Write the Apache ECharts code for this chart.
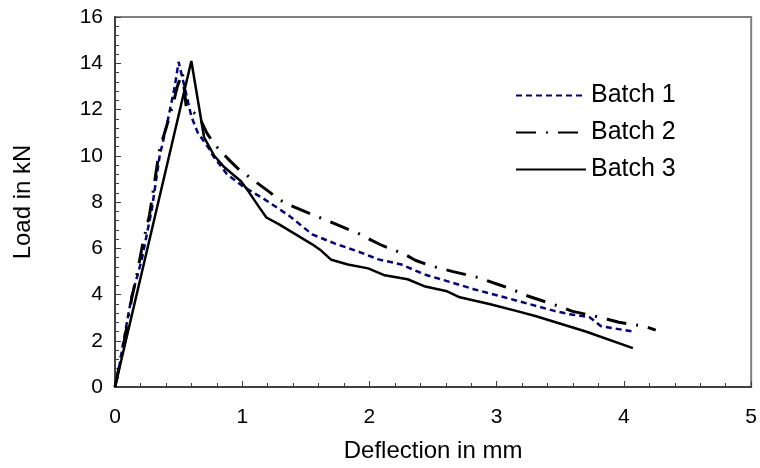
<!DOCTYPE html>
<html>
<head>
<meta charset="utf-8">
<script src="https://cdn.jsdelivr.net/npm/echarts@6/dist/echarts.min.js"></script>
<style>html,body{margin:0;padding:0;background:#fff;}#c{width:760px;height:468px;}</style>
</head>
<body>
<div id="c"></div>
<script>
const xTicks = [0, 1, 2, 3, 4, 5];
const yTicks = [0, 2, 4, 6, 8, 10, 12, 14, 16];

const batch1X = [0,0.04,0.06,0.13,0.21,0.29,0.35,0.41,0.47,0.50,0.55,0.60,0.65,0.74,0.77,0.88,1.0,1.18,1.37,1.55,1.73,1.91,2.07,2.25,2.43,2.64,2.82,3.06,3.26,3.46,3.57,3.73,3.82,4.07];
const batch1Y = [0,1.08,1.77,3.9,5.5,7.7,9.96,11.4,13.0,14.06,12.9,11.7,11.0,10.3,10.0,9.2,8.7,8.1,7.4,6.6,6.2,5.86,5.52,5.3,4.87,4.53,4.23,3.88,3.58,3.28,3.15,3.02,2.63,2.4];

const batch2X = [0,0.04,0.08,0.13,0.17,0.22,0.27,0.35,0.45,0.49,0.53,0.56,0.66,0.72,0.78,0.90,0.975,1.05,1.21,1.29,1.38,1.55,1.65,1.74,1.93,2.01,2.1,2.28,2.36,2.47,2.65,2.75,2.85,3.03,3.12,3.21,3.39,3.49,3.59,3.77,3.87,3.96,4.16,4.25];
const batch2Y = [0,1.08,2.2,3.8,4.8,6.25,7.4,10.26,12.1,13.0,13.6,12.1,11.7,11.0,10.5,9.8,9.4,9.1,8.45,8.1,7.85,7.46,7.24,7.03,6.6,6.36,6.12,5.73,5.48,5.26,5.0,4.87,4.74,4.4,4.23,4.0,3.67,3.49,3.28,3.06,2.93,2.8,2.63,2.46];

const batch3X = [0,0.6,0.70,0.78,0.86,0.99,1.05,1.13,1.19,1.29,1.42,1.55,1.62,1.70,1.83,1.99,2.12,2.30,2.43,2.61,2.71,2.95,3.16,3.31,3.7,4.07];
const batch3Y = [0,14.1,10.8,10.0,9.5,8.9,8.45,7.8,7.33,7.03,6.6,6.17,5.9,5.5,5.3,5.13,4.83,4.66,4.36,4.14,3.88,3.58,3.28,3.06,2.4,1.68];

const seriesNames = ['Batch 1', 'Batch 2', 'Batch 3'];

function zip(xs, ys) { return xs.map((x, i) => [x, ys[i]]); }

const FONT = '"Liberation Sans", Arial, sans-serif';
const chart = echarts.init(document.getElementById('c'), null, {renderer: 'canvas'});
chart.setOption({
  animation: false,
  backgroundColor: '#fff',
  grid: {left: 115, right: 4, top: 17, bottom: 80, show: true, borderColor: '#808080', borderWidth: 2},
  legend: {
    orient: 'vertical', left: 515, top: 83, padding: 0, itemWidth: 70, itemHeight: 14, itemGap: 12,
    data: seriesNames,
    itemStyle: {opacity: 0},
    textStyle: {fontFamily: FONT, fontSize: 25, color: '#000'}
  },
  xAxis: {
    type: 'value', min: xTicks[0], max: xTicks[xTicks.length - 1], interval: 1,
    name: 'Deflection in mm', nameLocation: 'middle', nameGap: 52,
    nameTextStyle: {fontFamily: FONT, fontSize: 24, color: '#000'},
    axisLine: {lineStyle: {color: '#404040', width: 2}},
    axisTick: {inside: true, length: 6, lineStyle: {color: '#404040', width: 1}},
    minorTick: {show: true, splitNumber: 5, length: 4, lineStyle: {color: '#404040'}},
    splitLine: {show: false},
    axisLabel: {fontFamily: FONT, fontSize: 21, color: '#000', margin: 20}
  },
  yAxis: {
    type: 'value', min: yTicks[0], max: yTicks[yTicks.length - 1], interval: 2,
    name: 'Load in kN', nameLocation: 'middle', nameGap: 80, nameRotate: 90,
    nameTextStyle: {fontFamily: FONT, fontSize: 24, color: '#000'},
    axisLine: {lineStyle: {color: '#404040', width: 2}},
    axisTick: {inside: true, length: 6, lineStyle: {color: '#404040', width: 1}},
    minorTick: {show: true, splitNumber: 5, length: 4, lineStyle: {color: '#404040'}},
    splitLine: {show: false},
    axisLabel: {fontFamily: FONT, fontSize: 21, color: '#000', margin: 12}
  },
  series: [
    {name: seriesNames[0], type: 'line', symbol: 'none', data: zip(batch1X, batch1Y),
     lineStyle: {color: '#000080', width: 2.5, type: [6, 4]}, itemStyle: {color: '#000080'}},
    {name: seriesNames[1], type: 'line', symbol: 'none', data: zip(batch2X, batch2Y),
     lineStyle: {color: '#000', width: 3, type: [20, 10, 2, 10]}, itemStyle: {color: '#000'}},
    {name: seriesNames[2], type: 'line', symbol: 'none', data: zip(batch3X, batch3Y),
     lineStyle: {color: '#000', width: 2.5}, itemStyle: {color: '#000'}}
  ]
});
</script>
</body>
</html>
